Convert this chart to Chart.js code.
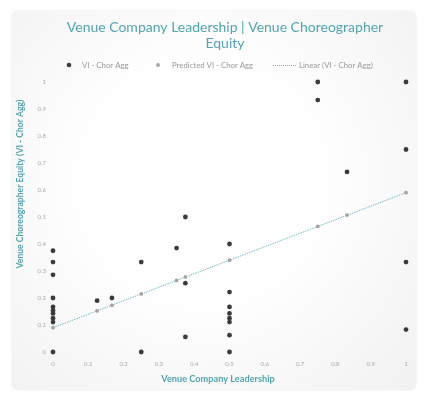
<!DOCTYPE html>
<html>
<head>
<meta charset="utf-8">
<script src="https://cdn.jsdelivr.net/npm/chart.js@4"></script>
<style>
  body { margin: 0; background: #fff; }
  #wrap { position: relative; width: 425px; height: 394px; }
  #card {
    position: absolute; left: 12px; top: 11px; width: 404px; height: 379px;
    border-radius: 6px;
    background: radial-gradient(circle at 47% 45%, #ffffff 0%, #ffffff 38%, #f1f1f1 100%);
    box-shadow: 0 0 2px rgba(0,0,0,0.12);
  }
  canvas { position: absolute; left: 0; top: 0; }
</style>
</head>
<body>
<div id="wrap">
  <div id="card"></div>
  <canvas id="chart" width="425" height="394"></canvas>
</div>
<script>
// observed values (VI - Chor Agg)
const leadership = [0, 0, 0, 0, 0, 0, 0, 0, 0, 0,
  0.125, 0.167, 0.25, 0.25, 0.35, 0.375, 0.375, 0.375,
  0.5, 0.5, 0.5, 0.5, 0.5, 0.5, 0.5, 0.5,
  0.75, 0.75, 0.833, 1, 1, 1, 1];
const choreographerEquity = [0.375, 0.333, 0.286, 0.2, 0.167, 0.154, 0.143, 0.125, 0.111, 0,
  0.19, 0.2, 0.333, 0, 0.385, 0.5, 0.255, 0.056,
  0.4, 0.222, 0.167, 0.143, 0.125, 0.111, 0.0625, 0,
  1, 0.933, 0.667, 1, 0.75, 0.333, 0.083];

// predicted values from the linear fit
const predictedX = [0, 0.125, 0.167, 0.25, 0.35, 0.375, 0.5, 0.75, 0.833, 1];
const predictedY = [0.09, 0.152, 0.173, 0.215, 0.265, 0.278, 0.34, 0.465, 0.507, 0.59];

// trendline end points
const trendX = [0, 1];
const trendY = [0.09, 0.59];

const xTicks = [0, 0.1, 0.2, 0.3, 0.4, 0.5, 0.6, 0.7, 0.8, 0.9, 1];

const seriesNames = ['VI - Chor Agg', 'Predicted VI - Chor Agg', 'Linear (VI - Chor Agg)'];
const titleLines = ['Venue Company Leadership | Venue Choreographer', 'Equity'];

const teal = '#4fa6b0';
const darkDot = '#3b3b3b';
const greyDot = '#a3a3a3';
const lineColor = '#6cbcc5';

const toPoints = (xs, ys) => xs.map((x, i) => ({ x: x, y: ys[i] }));
const fmt = (v) => String(Math.round(v * 10) / 10);

// title, legend and axis titles drawn by hand (off-centre like the original)
const extras = {
  id: 'extras',
  afterDraw(chart) {
    const ctx = chart.ctx;
    ctx.save();

    ctx.fillStyle = teal;
    ctx.font = '14px Lato';
    ctx.textAlign = 'center';
    ctx.textBaseline = 'middle';
    ctx.fillText(titleLines[0], 225, 27);
    ctx.fillText(titleLines[1], 225, 43);

    const ly = 65;
    ctx.font = '7.8px Lato';
    ctx.textAlign = 'left';

    ctx.beginPath();
    ctx.arc(69, ly, 2.3, 0, Math.PI * 2);
    ctx.fillStyle = darkDot;
    ctx.fill();
    ctx.fillStyle = '#9a9a9a';
    ctx.fillText(seriesNames[0], 82, ly);

    ctx.beginPath();
    ctx.arc(158, ly, 1.9, 0, Math.PI * 2);
    ctx.fillStyle = greyDot;
    ctx.fill();
    ctx.fillStyle = '#9a9a9a';
    ctx.fillText(seriesNames[1], 172, ly);

    ctx.beginPath();
    ctx.setLineDash([1, 1]);
    ctx.strokeStyle = lineColor;
    ctx.lineWidth = 1;
    ctx.moveTo(273, ly + 0.5);
    ctx.lineTo(297, ly + 0.5);
    ctx.stroke();
    ctx.setLineDash([]);
    ctx.fillText(seriesNames[2], 299, ly);

    // axis titles
    ctx.fillStyle = teal;
    ctx.font = 'bold 9.2px Lato';
    ctx.textAlign = 'center';
    ctx.fillText('Venue Company Leadership', 218, 379);

    ctx.font = 'bold 8.6px Lato';
    ctx.translate(20, 184);
    ctx.rotate(-Math.PI / 2);
    ctx.fillText('Venue Choreographer Equity (VI - Chor Agg)', 0, 0);
    ctx.restore();
  }
};

new Chart(document.getElementById('chart'), {
  type: 'scatter',
  data: {
    datasets: [
      {
        label: seriesNames[0],
        data: toPoints(leadership, choreographerEquity),
        backgroundColor: darkDot,
        borderColor: darkDot,
        pointRadius: 2.4,
        borderWidth: 0,
        clip: false,
        order: 1
      },
      {
        label: seriesNames[1],
        data: toPoints(predictedX, predictedY),
        backgroundColor: greyDot,
        borderColor: greyDot,
        pointRadius: 1.9,
        borderWidth: 0,
        clip: false,
        order: 2
      },
      {
        label: seriesNames[2],
        data: toPoints(trendX, trendY),
        showLine: true,
        borderColor: lineColor,
        borderWidth: 1,
        borderDash: [1.5, 1],
        pointRadius: 0,
        clip: false,
        order: 3
      }
    ]
  },
  options: {
    responsive: false,
    animation: false,
    layout: { padding: { left: 12, right: 19, top: 82, bottom: 6 } },
    plugins: {
      legend: { display: false },
      tooltip: { enabled: false },
      title: { display: false }
    },
    scales: {
      x: {
        type: 'linear',
        min: 0,
        max: 1,
        grid: { display: false, drawTicks: false },
        border: { display: false },
        afterBuildTicks: (scale) => { scale.ticks = xTicks.map((v) => ({ value: v })); },
        ticks: { color: '#aaaaaa', font: { family: 'Lato', size: 6 }, padding: 8, callback: fmt },
        afterFit: (scale) => { scale.height = 36; }
      },
      y: {
        type: 'linear',
        min: 0,
        max: 1,
        grid: { display: false, drawTicks: false },
        border: { display: false },
        ticks: { stepSize: 0.1, color: '#aaaaaa', font: { family: 'Lato', size: 6 }, padding: 7, callback: fmt },
        afterFit: (scale) => { scale.width = 41; }
      }
    }
  },
  plugins: [extras]
});
</script>
</body>
</html>
